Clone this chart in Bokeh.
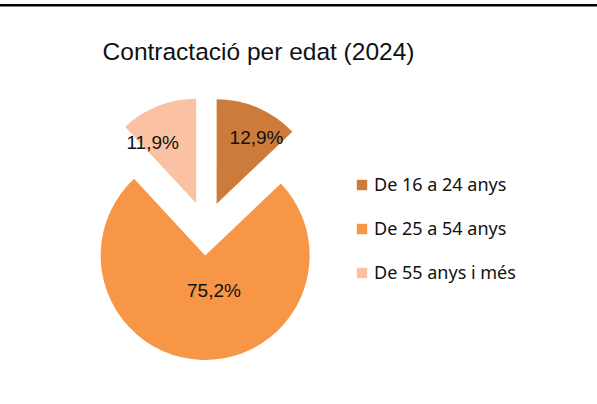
import math
from bokeh.plotting import figure
from bokeh.models import Range1d, Label, LegendItem, Legend, BoxAnnotation, ColumnDataSource
from bokeh.embed import file_html
from bokeh.resources import INLINE

# ---- data ----
categories = ["De 16 a 24 anys", "De 25 a 54 anys", "De 55 anys i més"]
shares = [12.9, 75.2, 11.9]
share_labels = ["12,9%", "75,2%", "11,9%"]
colors = ["#CD7B3A", "#F79646", "#FAC2A2"]
title_text = "Contractació per edat (2024)"

# ---- layout constants (page pixels, y measured upward from page bottom) ----
W, H = 597, 404
OFF = 8
cx, cy = 205.5, H - 228
radius = 104.5
explode = 27
label_dist = [77, 36, 75]
label_shift = [-8, 16, 14]

p = figure(width=W + OFF, height=H + OFF, x_range=Range1d(-OFF, W), y_range=Range1d(0, H + OFF),
           output_backend="svg", toolbar_location=None, min_border=0,
           margin=(-8, -8, -8, -8))
p.axis.visible = False
p.grid.visible = False
p.outline_line_color = None
p.background_fill_color = "white"
p.border_fill_color = "white"

total = sum(shares)
xs, ys, starts, ends, lx, ly = [], [], [], [], [], []
cum = 0.0
for i, s in enumerate(shares):
    a0 = 90 - cum / total * 360
    a1 = 90 - (cum + s) / total * 360
    mid = math.radians((a0 + a1) / 2)
    x0 = cx + explode * math.cos(mid)
    y0 = cy + explode * math.sin(mid)
    xs.append(x0); ys.append(y0)
    starts.append(math.radians(a1)); ends.append(math.radians(a0))
    la = mid + math.radians(label_shift[i])
    lx.append(x0 + label_dist[i] * math.cos(la))
    ly.append(y0 + label_dist[i] * math.sin(la))
    cum += s

src = ColumnDataSource(dict(x=xs, y=ys, start=starts, end=ends, color=colors,
                            cat=categories, lab=share_labels, lx=lx, ly=ly))
w = p.wedge(x="x", y="y", radius=radius, start_angle="start", end_angle="end",
            fill_color="color", line_color=None, source=src)

p.text(x="lx", y="ly", text="lab", source=src, text_align="center",
       text_baseline="middle", text_font_size="19px", text_color="#111111",
       text_font={"value": "Liberation Sans"})

legend = Legend(items=[LegendItem(label=c, renderers=[w], index=i) for i, c in enumerate(categories)],
                location=(363, 120), orientation="vertical",
                glyph_width=13, glyph_height=13, label_height=22, spacing=20,
                label_standoff=6, padding=0, margin=0,
                label_text_font="Noto Sans", label_text_font_size="18px",
                label_text_color="#111111", border_line_color=None,
                background_fill_alpha=0)
p.add_layout(legend, "center")

p.add_layout(Label(x=258, y=H - 51, text=title_text, text_align="center",
                   text_baseline="alphabetic", text_font="Liberation Sans",
                   text_font_size="24.5px", text_color="#111111"))

p.add_layout(BoxAnnotation(top=H - 3.5, bottom=H - 6, fill_color="black",
                           fill_alpha=1, line_color=None))

open("out.html", "w").write(file_html(p, INLINE))
